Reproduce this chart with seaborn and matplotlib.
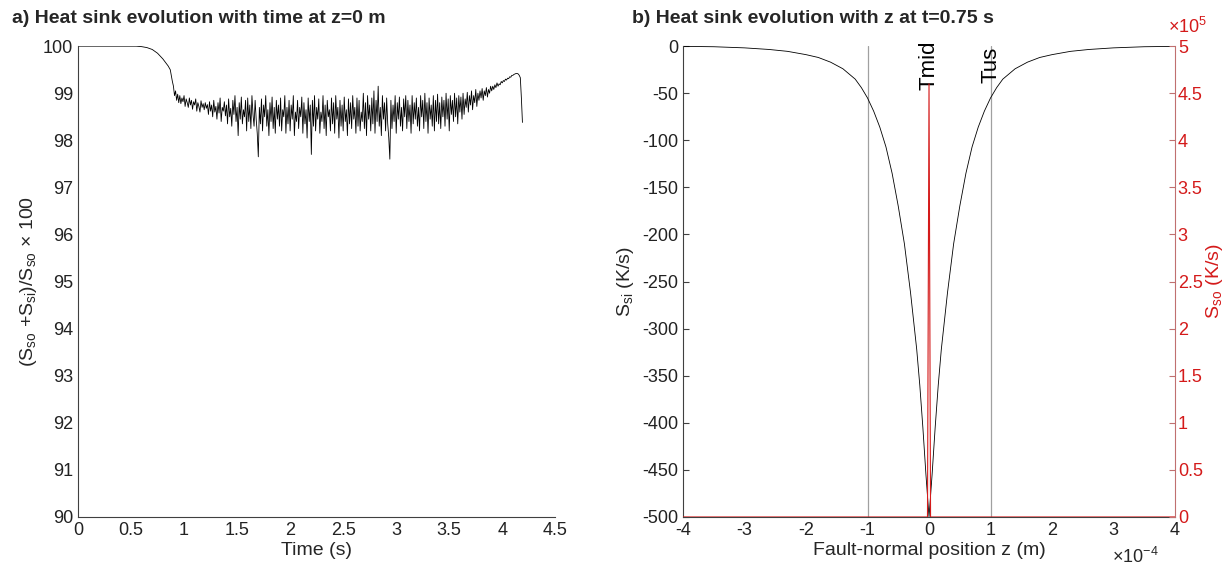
import numpy as np
import pandas as pd
import seaborn as sns
import matplotlib.pyplot as plt
from matplotlib.ticker import FuncFormatter

# ---- panel a: ratio vs time at z=0 ----
time_head = [0.0, 0.55, 0.60, 0.65, 0.70, 0.75, 0.80, 0.85, 0.87, 0.89]
ratio_head = [100.0, 100.0, 99.99, 99.97, 99.93, 99.85, 99.73, 99.58, 99.50, 99.25]

# sampled every 0.01 s from 0.90 s
ratio_noisy = [
    99.15, 98.95, 99.05, 98.85, 98.98, 98.80, 98.95, 98.78, 98.90, 98.82,
    98.95, 98.72, 98.88, 98.80, 98.70, 98.90, 98.75, 98.85, 98.66, 98.82,
    98.75, 98.88, 98.62, 98.80, 98.72, 98.60, 98.84, 98.70, 98.78, 98.65,
    98.80, 98.68, 98.76, 98.55, 98.82, 98.62, 98.75, 98.50, 98.85, 98.60,
    98.72, 98.45, 98.80, 98.58, 98.90, 98.40, 98.70, 98.62, 98.82, 98.52,
    98.75, 98.35, 98.88, 98.50, 98.68, 98.30, 98.85, 98.55, 98.95, 98.40,
    98.70, 98.10, 98.80, 98.45, 98.92, 98.35, 98.65, 98.50, 98.85, 98.20,
    98.90, 98.40, 98.75, 98.25, 98.95, 98.55, 98.30, 98.85, 98.45, 98.15,
    97.65, 98.70, 98.35, 98.88, 98.20, 98.75, 98.50, 98.95, 98.30, 98.65,
    98.10, 98.80, 98.40, 98.92, 98.25, 98.70, 98.15, 98.85, 98.45, 98.75,
    98.30, 98.90, 98.20, 98.65, 98.50, 98.95, 98.15, 98.70, 98.35, 98.85,
    98.20, 98.75, 98.45, 98.95, 98.10, 98.60, 98.40, 98.85, 98.25, 98.70,
    98.50, 98.92, 98.15, 98.80, 98.35, 98.65, 98.05, 98.90, 98.40, 98.75,
    97.70, 98.85, 98.30, 98.95, 98.20, 98.70, 98.45, 98.88, 98.15, 98.60,
    98.40, 98.95, 98.25, 98.75, 98.10, 98.85, 98.50, 98.65, 98.20, 98.90,
    98.35, 98.80, 98.15, 98.95, 98.45, 98.70, 98.05, 98.85, 98.30, 98.75,
    98.20, 98.92, 98.40, 98.65, 98.10, 98.88, 98.35, 98.80, 98.25, 98.95,
    98.45, 98.70, 98.15, 98.90, 98.30, 98.85, 98.20, 98.60, 98.40, 99.00,
    98.25, 98.80, 98.10, 98.95, 98.45, 98.75, 98.20, 98.90, 98.35, 99.05,
    98.15, 98.85, 98.40, 99.15, 98.30, 98.70, 98.10, 98.95, 98.45, 98.80,
    98.20, 98.90, 98.35, 98.05, 97.60, 98.85, 98.25, 98.75, 98.40, 98.95,
    98.15, 98.80, 98.45, 98.92, 98.30, 98.70, 98.20, 98.88, 98.50, 98.95,
    98.25, 98.85, 98.40, 98.75, 98.15, 98.95, 98.35, 98.80, 98.45, 98.90,
    98.30, 98.70, 98.20, 98.95, 98.50, 98.85, 98.25, 99.00, 98.40, 98.80,
    98.15, 98.90, 98.45, 98.75, 98.30, 98.95, 98.20, 98.85, 98.40, 98.98,
    98.35, 98.80, 98.25, 98.92, 98.50, 98.85, 98.30, 99.00, 98.45, 98.88,
    98.20, 98.95, 98.55, 98.85, 98.40, 99.00, 98.50, 98.90, 98.35, 98.95,
    98.60, 98.92, 98.45, 99.00, 98.55, 98.88, 98.70, 99.02, 98.60, 98.95,
    98.75, 99.05, 98.65, 98.95, 98.80, 99.08, 98.72, 99.00, 98.85, 99.05,
    98.90, 99.10, 98.85, 99.05, 98.95, 99.12, 98.92, 99.08, 99.00, 99.15,
    99.05, 99.15, 99.08, 99.18, 99.12, 99.22, 99.15, 99.20, 99.18, 99.25,
    99.22, 99.27, 99.25, 99.30, 99.28, 99.32, 99.31, 99.35, 99.34, 99.38,
    99.38, 99.40, 99.41, 99.42, 99.42, 99.41, 99.38, 99.33, 98.90, 98.38,
]
time_noisy = np.round(0.90 + 0.01 * np.arange(len(ratio_noisy)), 2)

# ---- panel b: heat sinks vs z at t=0.75 s ----
z_half = [0.0, 0.05, 0.1, 0.15, 0.2, 0.3, 0.4, 0.5, 0.6, 0.7, 0.8, 0.9,
          1.0, 1.1, 1.2, 1.4, 1.6, 1.8, 2.0, 2.3, 2.6, 3.0, 3.5, 4.0]  # x1e-4 m
ssi_half = [-500, -455, -405, -360, -322, -262, -210, -170, -135, -107, -86, -69,
            -55, -44, -35, -24, -17, -12, -9, -5.5, -3.5, -1.8, -0.6, -0.2]
z_so = [-4.0, -0.025, 0.0, 0.025, 4.0]          # x1e-4 m
sso = [0.0, 0.0, 4.6e5, 0.0, 0.0]
marker_z = [0.0, 1.0]                            # x1e-4 m
marker_names = ['Tmid', 'Tus']
marker_y = [-47, -39]

RED = '#d41a1a'
AX = '#404040'

sns.set_style('white')
plt.rcParams['font.family'] = ['Liberation Sans', 'DejaVu Sans']
plt.rcParams['mathtext.fontset'] = 'custom'
plt.rcParams['mathtext.rm'] = 'Liberation Sans'
plt.rcParams['mathtext.it'] = 'Liberation Sans:italic'
plt.rcParams['mathtext.default'] = 'regular'
plt.rcParams['axes.unicode_minus'] = False

fig = plt.figure(figsize=(12.24, 5.7), dpi=100)
ax1 = fig.add_axes([0.0637, 0.093, 0.390, 0.826])
ax2 = fig.add_axes([0.558, 0.093, 0.402, 0.826])


def style(ax, color=AX):
    for s in ['top', 'right']:
        ax.spines[s].set_visible(False)
    for s in ['left', 'bottom']:
        ax.spines[s].set_color(color)
        ax.spines[s].set_linewidth(0.8)
    ax.tick_params(direction='in', length=4, width=0.8, colors='#222222',
                   labelsize=13, color=AX)


# panel a
df_a = pd.DataFrame({'t': list(time_head) + list(time_noisy),
                     'r': list(ratio_head) + list(ratio_noisy)})
sns.lineplot(data=df_a, x='t', y='r', ax=ax1, color='black', linewidth=0.6,
             estimator=None)
ax1.set_xlim(0, 4.5)
ax1.set_ylim(90, 100)
ax1.set_xticks(np.arange(0, 4.51, 0.5))
ax1.set_xticklabels(['0', '0.5', '1', '1.5', '2', '2.5', '3', '3.5', '4', '4.5'])
ax1.set_yticks(np.arange(90, 101, 1))
ax1.set_xlabel('Time (s)', fontsize=14, labelpad=2)
ax1.set_ylabel(r'(S$_{so}$ +S$_{si}$)/S$_{so}$ × 100', fontsize=14, labelpad=3)
style(ax1)

# panel b
z_full = [-v * 1e-4 for v in z_half[::-1]] + [v * 1e-4 for v in z_half[1:]]
ssi_full = ssi_half[::-1] + ssi_half[1:]
df_b = pd.DataFrame({'z': z_full, 'ssi': ssi_full})
for zm in marker_z:
    if zm != 0:
        for sgn in (-1, 1):
            ax2.axvline(sgn * zm * 1e-4, color='#a0a0a0', linewidth=0.9)
sns.lineplot(data=df_b, x='z', y='ssi', ax=ax2, color='black', linewidth=0.6,
             estimator=None)
ax2.set_xlim(-4e-4, 4e-4)
ax2.set_ylim(-500, 0)
ax2.set_xticks(np.arange(-4, 4.1, 1) * 1e-4)
ax2.set_yticks(np.arange(-500, 1, 50))
ax2.xaxis.set_major_formatter(FuncFormatter(lambda v, p: f'{v / 1e-4:g}'))
ax2.text(0.92, -0.085, r'×10$^{-4}$', transform=ax2.transAxes, ha='center',
         va='center', fontsize=13)
ax2.set_xlabel('Fault-normal position z (m)', fontsize=14, labelpad=2)
ax2.set_ylabel(r'S$_{si}$ (K/s)', fontsize=14)
style(ax2)

for name, zm, ym in zip(marker_names, marker_z, marker_y):
    ax2.text(zm * 1e-4, ym, name, rotation=90, ha='center', va='bottom',
             fontsize=16, color='black')

ax3 = ax2.twinx()
df_so = pd.DataFrame({'z': [v * 1e-4 for v in z_so], 'sso': sso})
sns.lineplot(data=df_so, x='z', y='sso', ax=ax3, color=RED, linewidth=0.8,
             estimator=None)
ax3.set_ylim(0, 5e5)
ax3.set_yticks(np.arange(0, 5.01e5, 0.5e5))
ax3.yaxis.set_major_formatter(FuncFormatter(lambda v, p: f'{v / 1e5:g}'))
ax3.text(0.985, 1.02, r'×10$^5$', transform=ax3.transAxes, ha='left',
         va='bottom', fontsize=13, color=RED)
ax3.set_ylabel(r'S$_{so}$ (K/s)', fontsize=14, color=RED)
ax3.yaxis.set_label_coords(1.059, 0.5)
for s in ['top', 'left', 'bottom']:
    ax3.spines[s].set_visible(False)
ax3.spines['right'].set_color('#c07070')
ax3.spines['right'].set_linewidth(0.8)
ax3.tick_params(direction='in', length=4, width=0.8, colors=RED, labelsize=13,
                color='#c07070', pad=2)
ax3.set_xlim(-4e-4, 4e-4)

fig.text(0.01, 0.967, 'a) Heat sink evolution with time at z=0 m',
         fontsize=14, fontweight='bold', va='center', ha='left')
fig.text(0.516, 0.967, 'b) Heat sink evolution with z at t=0.75 s',
         fontsize=14, fontweight='bold', va='center', ha='left')

fig.savefig('out.png', dpi=100)
